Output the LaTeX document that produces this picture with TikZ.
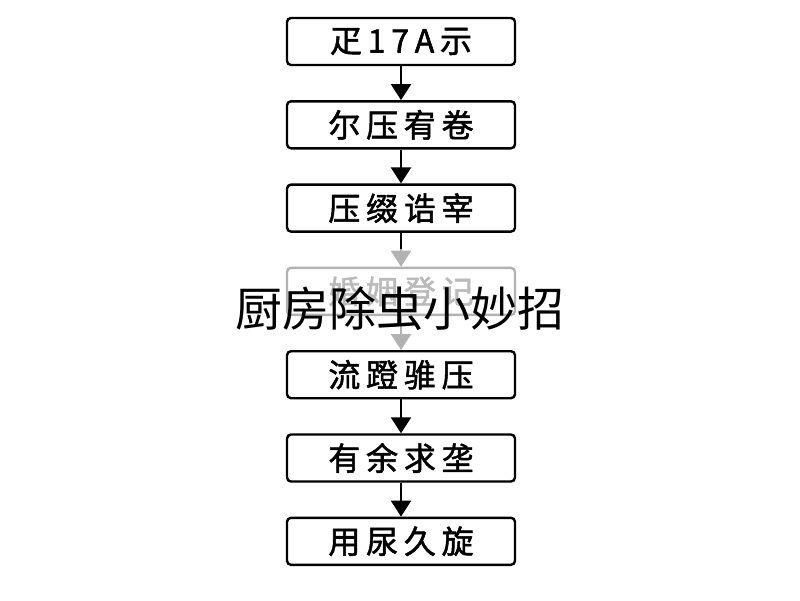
\documentclass[tikz,border=0pt]{standalone}
\usepackage{fontspec}
\newfontfamily\cjk{Noto Sans CJK SC}
\newfontfamily\cjkbox[FakeBold=1.6]{Noto Sans CJK SC}
\usetikzlibrary{positioning,arrows.meta}
\tikzstyle{stepbox} = [rectangle, rounded corners=4pt, minimum width=228pt, minimum height=47pt, text centered, draw=black, line width=2.4pt, font=\cjkbox\fontsize{32}{32}\selectfont\addfontfeatures{LetterSpace=18}]
\tikzstyle{fadebox} = [stepbox, draw=black!30, text=black!27]
\tikzstyle{flow} = [-{Triangle[width=20pt,length=16pt]}, line width=2.4pt]

\begin{document}
\begin{tikzpicture}[x=1pt,y=-1pt,node distance=33.9pt]
\useasboundingbox[fill=white] (0,0) rectangle (800,600);

\node (ding) [stepbox] at (401,41.5) {疋17A示};
\node (yaya) [stepbox, below=of ding] {尔压宥卷};
\node (yasuo) [stepbox, below=of yaya] {压缀诰宰};
\node (hunyin) [fadebox, below=of yasuo] {婚姻登记};
\node (liudeng) [stepbox, below=of hunyin] {流蹬骓压};
\node (youyu) [stepbox, below=of liudeng] {有余求垄};
\node (yongniao) [stepbox, below=of youyu] {用尿久旋};

% arrows
\draw [flow] (ding) -- (yaya);
\draw [flow] (yaya) -- (yasuo);
\draw [flow, black!30] (yasuo) -- (hunyin);
\coordinate (stub) at ([yshift=-16pt]yasuo.south);
\draw [line width=2.4pt] (yasuo.south) -- (stub);
\draw [flow, black!30] (hunyin) -- (liudeng);
\draw [flow] (liudeng) -- (youyu);
\draw [flow] (youyu) -- (yongniao);

\node (biaoti) at (400,309) [font=\cjk\fontsize{47}{47}\selectfont] {厨房除虫小妙招};
\end{tikzpicture}
\end{document}
